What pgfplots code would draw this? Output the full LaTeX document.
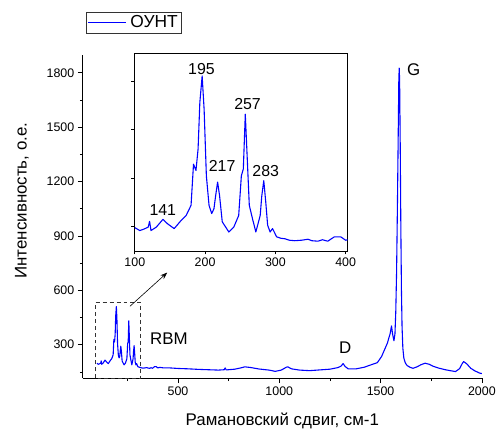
\documentclass[border=0pt]{standalone}
\usepackage{fontspec}
\setmainfont{Liberation Sans}
\usepackage{pgfplots}
\pgfplotsset{compat=1.18}
\usepackage{pgfplotstable}
\usetikzlibrary{arrows.meta}

% Raman spectrum
\pgfplotstableread{
x y
100 198
107 192
113 195
119 199
121 211
123 192
130.5 199
140 215
146.5 206
156 196
166 213
173 223
180 244
183.5 329
187 316
190 360
192.5 456
195.8 511
198.6 442
201.8 305
205.6 244
209.4 227
212.6 237
215 264
217.8 292
220.6 264
224.4 210
233.8 189
240.8 199
247.8 223
251.6 305
254.4 319
257.2 432
260 340
262.9 244
267.5 216
272.2 189
278.4 223
280.7 264
283.5 295
286.3 251
289 203
292.5 189
296 196
301.8 179
308 176
313.6 175
320 172
327.7 171
337 172
346.4 174
352 171
360.5 170
367 173
374.5 170
384 179
393 179
400 172
410 175
430 172
460 172
500 169
550 167
600 164
650 162
700 160
728 162
733 172
738 161
780 165
810 172
830 178
860 174
900 166
950 160
980 153
1010 160
1035 176
1042 178
1060 167
1100 160
1150 157
1200 161
1250 165
1290 174
1305 182
1315 196
1325 180
1340 167
1380 167
1420 176
1450 188
1484 201
1505 235
1524 284
1534 310
1541 338
1547 360
1554 404
1559 360
1566 322
1571 360
1575 480
1579 700
1583 1050
1587 1450
1590 1760
1592 1826
1594 1760
1597 1400
1600 950
1603 600
1606 400
1610 280
1615 225
1622 200
1631 185
1646 175
1660 170
1680 178
1700 190
1720 198
1740 192
1760 181
1790 170
1820 162
1843 157
1870 152
1890 168
1903 196
1910 207
1925 195
1945 170
1965 156
1990 143
2000 141
}\spectrum

\begin{document}
\begin{tikzpicture}
\begin{axis}[
  at={(0,0)}, anchor=south west,
  scale only axis, width=401.7pt, height=325.7pt,
  xmin=30, xmax=2000, ymin=115, ymax=1900,
  axis lines=left, axis line style={-, line width=0.7pt},
  tick align=outside, major tick length=5pt, minor tick length=3pt,
  tick style={black, line width=0.7pt},
  xtick={500,1000,1500,2000}, minor xtick={250,750,1250,1750},
  ytick={300,600,...,1800}, minor ytick={150,450,...,1650},
  scaled ticks=false,
  /pgf/number format/1000 sep={},
  /pgf/number format/assume math mode=true,
  tick label style={font=\fontsize{12.5}{14}\selectfont},
  xlabel={Рамановский сдвиг, см-1},
  ylabel={Интенсивность, о.е.},
  label style={font=\fontsize{17}{19}\selectfont},
  xlabel style={at={(axis description cs:0.5,-0.133)}, anchor=center},
  ylabel style={at={(axis description cs:-0.1526,0.549)}, anchor=center},
  clip=false,
  legend style={at={(0.009,1.132)}, anchor=north west, draw=black!80,
    line width=0.6pt, font=\fontsize{17.5}{19}\selectfont,
    inner xsep=1pt, inner ysep=1pt,
    nodes={inner xsep=2pt, inner ysep=2.5pt}},
  legend image code/.code={
    \draw[blue, line width=1.1pt] (0pt,0pt) -- (38pt,0pt);
    \path (40pt,0pt);},
]
\addplot[blue, line width=1.1pt, line join=round] table {\spectrum};
\addlegendentry{ОУНТ}
\draw[black!80, line width=0.7pt, dash pattern=on 4pt off 3pt]
  (axis cs:92,115) rectangle (axis cs:315,535);
\draw[-{Stealth[length=7pt,width=5pt]}, line width=0.6pt]
  (axis cs:263,512) -- (axis cs:447,698);
\begin{scope}[font=\fontsize{17}{19}\selectfont]
\node at (axis cs:455,335) {RBM};
\node at (axis cs:1325,284) {D};
\node at (axis cs:1664,1816) {G};
\end{scope}
\end{axis}

\begin{axis}[
  at={(51.7pt,127.7pt)}, anchor=south west,
  scale only axis, width=215pt, height=199pt,
  xmin=99, xmax=403, ymin=149, ymax=557,
  axis line style={line width=0.7pt},
  tick align=outside, major tick length=3pt,
  tick style={black, line width=0.7pt},
  xtick={100,200,300,400}, ytick={200,300,400,500},
  yticklabels={},
  xtick pos=bottom, ytick pos=left,
  /pgf/number format/assume math mode=true,
  tick label style={font=\fontsize{12.5}{14}\selectfont},
]
\addplot[blue, line width=1.1pt, line join=round] table {\spectrum};
\begin{scope}[font=\fontsize{16}{18}\selectfont]
\node at (axis cs:194.8,526) {195};
\node at (axis cs:260.4,452.5) {257};
\node at (axis cs:224.2,324.6) {217};
\node at (axis cs:286.3,314) {283};
\node at (axis cs:139.8,235) {141};
\end{scope}
\end{axis}
\path[use as bounding box] (-83.3pt,-49.3pt) rectangle (415.7pt,380.7pt);
\end{tikzpicture}
\end{document}
